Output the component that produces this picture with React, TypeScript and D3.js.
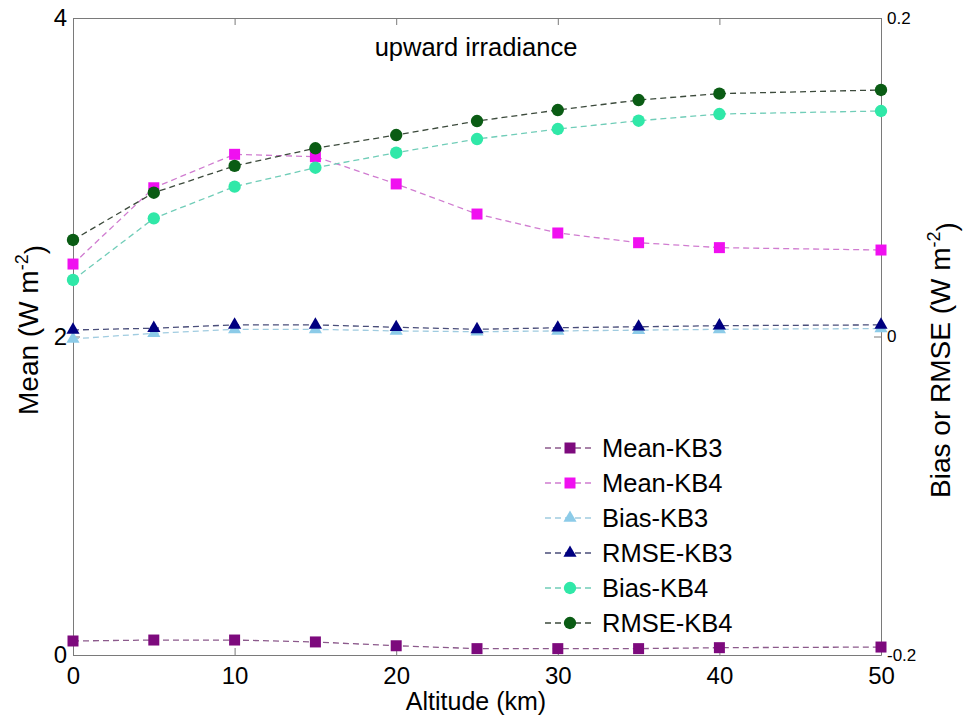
import React, { useEffect, useRef } from "react";
import * as d3 from "d3";

// altitude levels (km)
const altitude = [0, 5, 10, 15, 20, 25, 30, 35, 40, 50];

// left axis series (Mean, W m-2)
const meanKB3 = [0.088, 0.094, 0.094, 0.082, 0.058, 0.04, 0.04, 0.04, 0.046, 0.05];
const meanKB4 = [2.455, 2.934, 3.144, 3.129, 2.958, 2.769, 2.65, 2.589, 2.558, 2.543];

// right axis series (Bias or RMSE, W m-2)
const biasKB3 = [-0.0015, 0.002, 0.0045, 0.0045, 0.0035, 0.003, 0.0035, 0.004, 0.0045, 0.005];
const rmseKB3 = [0.0041, 0.0052, 0.0073, 0.0073, 0.0058, 0.0045, 0.0055, 0.0061, 0.0068, 0.0073];
const biasKB4 = [0.0355, 0.0742, 0.0941, 0.106, 0.1154, 0.124, 0.1303, 0.1355, 0.1397, 0.1416];
const rmseKB4 = [0.0606, 0.0903, 0.1071, 0.1182, 0.1265, 0.1353, 0.1422, 0.1485, 0.1525, 0.1548];

const xTicks = [0, 10, 20, 30, 40, 50];
const leftTicks = [0, 2, 4];
const rightTicks = [-0.2, 0, 0.2];

const FONT = "'Liberation Sans', Arial, Helvetica, sans-serif";

export default function App() {
  const ref = useRef<SVGSVGElement>(null);

  useEffect(() => {
    const svg = d3.select(ref.current);
    svg.selectAll("*").remove();

    const x0 = 73, x1 = 881, yTop = 18, yBot = 655;
    const x = d3.scaleLinear().domain([0, 50]).range([x0, x1]);
    const yL = d3.scaleLinear().domain([0, 4]).range([yBot, yTop]);
    const yR = d3.scaleLinear().domain([-0.2, 0.2]).range([yBot, yTop]);

    const series = [
      { name: "Mean-KB3", values: meanKB3, axis: yL, shape: d3.symbolSquare, size: 121, fill: "#7d0a7d", line: "#8c5a8c" },
      { name: "Mean-KB4", values: meanKB4, axis: yL, shape: d3.symbolSquare, size: 121, fill: "#f010f0", line: "#d07cd0" },
      { name: "Bias-KB3", values: biasKB3, axis: yR, shape: d3.symbolTriangle, size: 75, fill: "#8ccbe8", line: "#a0cce0" },
      { name: "RMSE-KB3", values: rmseKB3, axis: yR, shape: d3.symbolTriangle, size: 75, fill: "#000080", line: "#4a4e7a" },
      { name: "Bias-KB4", values: biasKB4, axis: yR, shape: d3.symbolCircle, size: 120, fill: "#30e8a8", line: "#70cdb8" },
      { name: "RMSE-KB4", values: rmseKB4, axis: yR, shape: d3.symbolCircle, size: 120, fill: "#0a5c14", line: "#3c4a3c" },
    ];

    // axes box
    const axisColor = "#7a7a7a";
    const styleAxis = (g, fs) => {
      g.select(".domain").attr("stroke", axisColor);
      g.selectAll(".tick line").attr("stroke", axisColor);
      g.selectAll(".tick text").attr("fill", "#000").style("font-family", FONT).style("font-size", fs + "px");
    };

    svg.append("g")
      .attr("transform", "translate(0," + yBot + ")")
      .call(d3.axisBottom(x).tickValues(xTicks).tickSizeInner(-7).tickSizeOuter(0).tickPadding(12))
      .call(g => styleAxis(g, 24));

    svg.append("g")
      .attr("transform", "translate(0," + yTop + ")")
      .call(d3.axisTop(x).tickValues(xTicks).tickSizeInner(-7).tickSizeOuter(0).tickFormat(() => ""))
      .call(g => styleAxis(g, 24));

    svg.append("g")
      .attr("transform", "translate(" + x0 + ",0)")
      .call(d3.axisLeft(yL).tickValues(leftTicks).tickSizeInner(-7).tickSizeOuter(0).tickPadding(6)
        .tickFormat(d3.format("d")))
      .call(g => styleAxis(g, 24));

    svg.append("g")
      .attr("transform", "translate(" + x1 + ",0)")
      .call(d3.axisRight(yR).tickValues(rightTicks).tickSizeInner(-7).tickSizeOuter(0).tickPadding(6)
        .tickFormat(d => (d === 0 ? "0" : String(d))))
      .call(g => styleAxis(g, 17));

    // lines + markers
    series.forEach(s => {
      const line = d3.line<number>()
        .x((d, i) => x(altitude[i]))
        .y(d => s.axis(d));
      svg.append("path")
        .datum(s.values)
        .attr("d", line)
        .attr("fill", "none")
        .attr("stroke", s.line)
        .attr("stroke-width", 1.3)
        .attr("stroke-dasharray", "6,4");
    });
    series.forEach(s => {
      const sym = d3.symbol().type(s.shape).size(s.size);
      svg.append("g")
        .selectAll("path")
        .data(s.values)
        .join("path")
        .attr("d", sym)
        .attr("transform", (d, i) => "translate(" + x(altitude[i]) + "," + s.axis(d) + ")")
        .attr("fill", s.fill);
    });

    // legend
    const legend = svg.append("g").attr("transform", "translate(545,448)");
    series.forEach((s, i) => {
      const row = legend.append("g").attr("transform", "translate(0," + i * 35 + ")");
      row.append("line")
        .attr("x1", 0).attr("x2", 50)
        .attr("stroke", s.line)
        .attr("stroke-width", 1.3)
        .attr("stroke-dasharray", "6,4");
      row.append("path")
        .attr("d", d3.symbol().type(s.shape).size(s.size)())
        .attr("transform", "translate(25,0)")
        .attr("fill", s.fill);
      row.append("text")
        .attr("x", 57)
        .attr("y", 9)
        .style("font-family", FONT)
        .style("font-size", "25.5px")
        .text(s.name);
    });

    // titles
    svg.append("text")
      .attr("x", 476).attr("y", 56)
      .attr("text-anchor", "middle")
      .style("font-family", FONT).style("font-size", "25.5px")
      .text("upward irradiance");

    svg.append("text")
      .attr("x", 476).attr("y", 710)
      .attr("text-anchor", "middle")
      .style("font-family", FONT).style("font-size", "25px")
      .text("Altitude (km)");

    const yLabel = (tx, ty, label) => {
      const t = svg.append("text")
        .attr("transform", "translate(" + tx + "," + ty + ") rotate(-90)")
        .attr("text-anchor", "middle")
        .style("font-family", FONT).style("font-size", "28px");
      t.append("tspan").text(label + " (W m");
      t.append("tspan").attr("dy", "-0.55em").style("font-size", "18px").text("-2");
      t.append("tspan").attr("dy", "0.55em").text(")");
    };
    yLabel(38, 330, "Mean");
    yLabel(950, 360, "Bias or RMSE");
  }, []);

  return (
    <div style={{ position: "absolute", left: 0, top: 0 }}>
      <svg ref={ref} width={963} height={722} style={{ display: "block", background: "#fff" }} />
    </div>
  );
}
